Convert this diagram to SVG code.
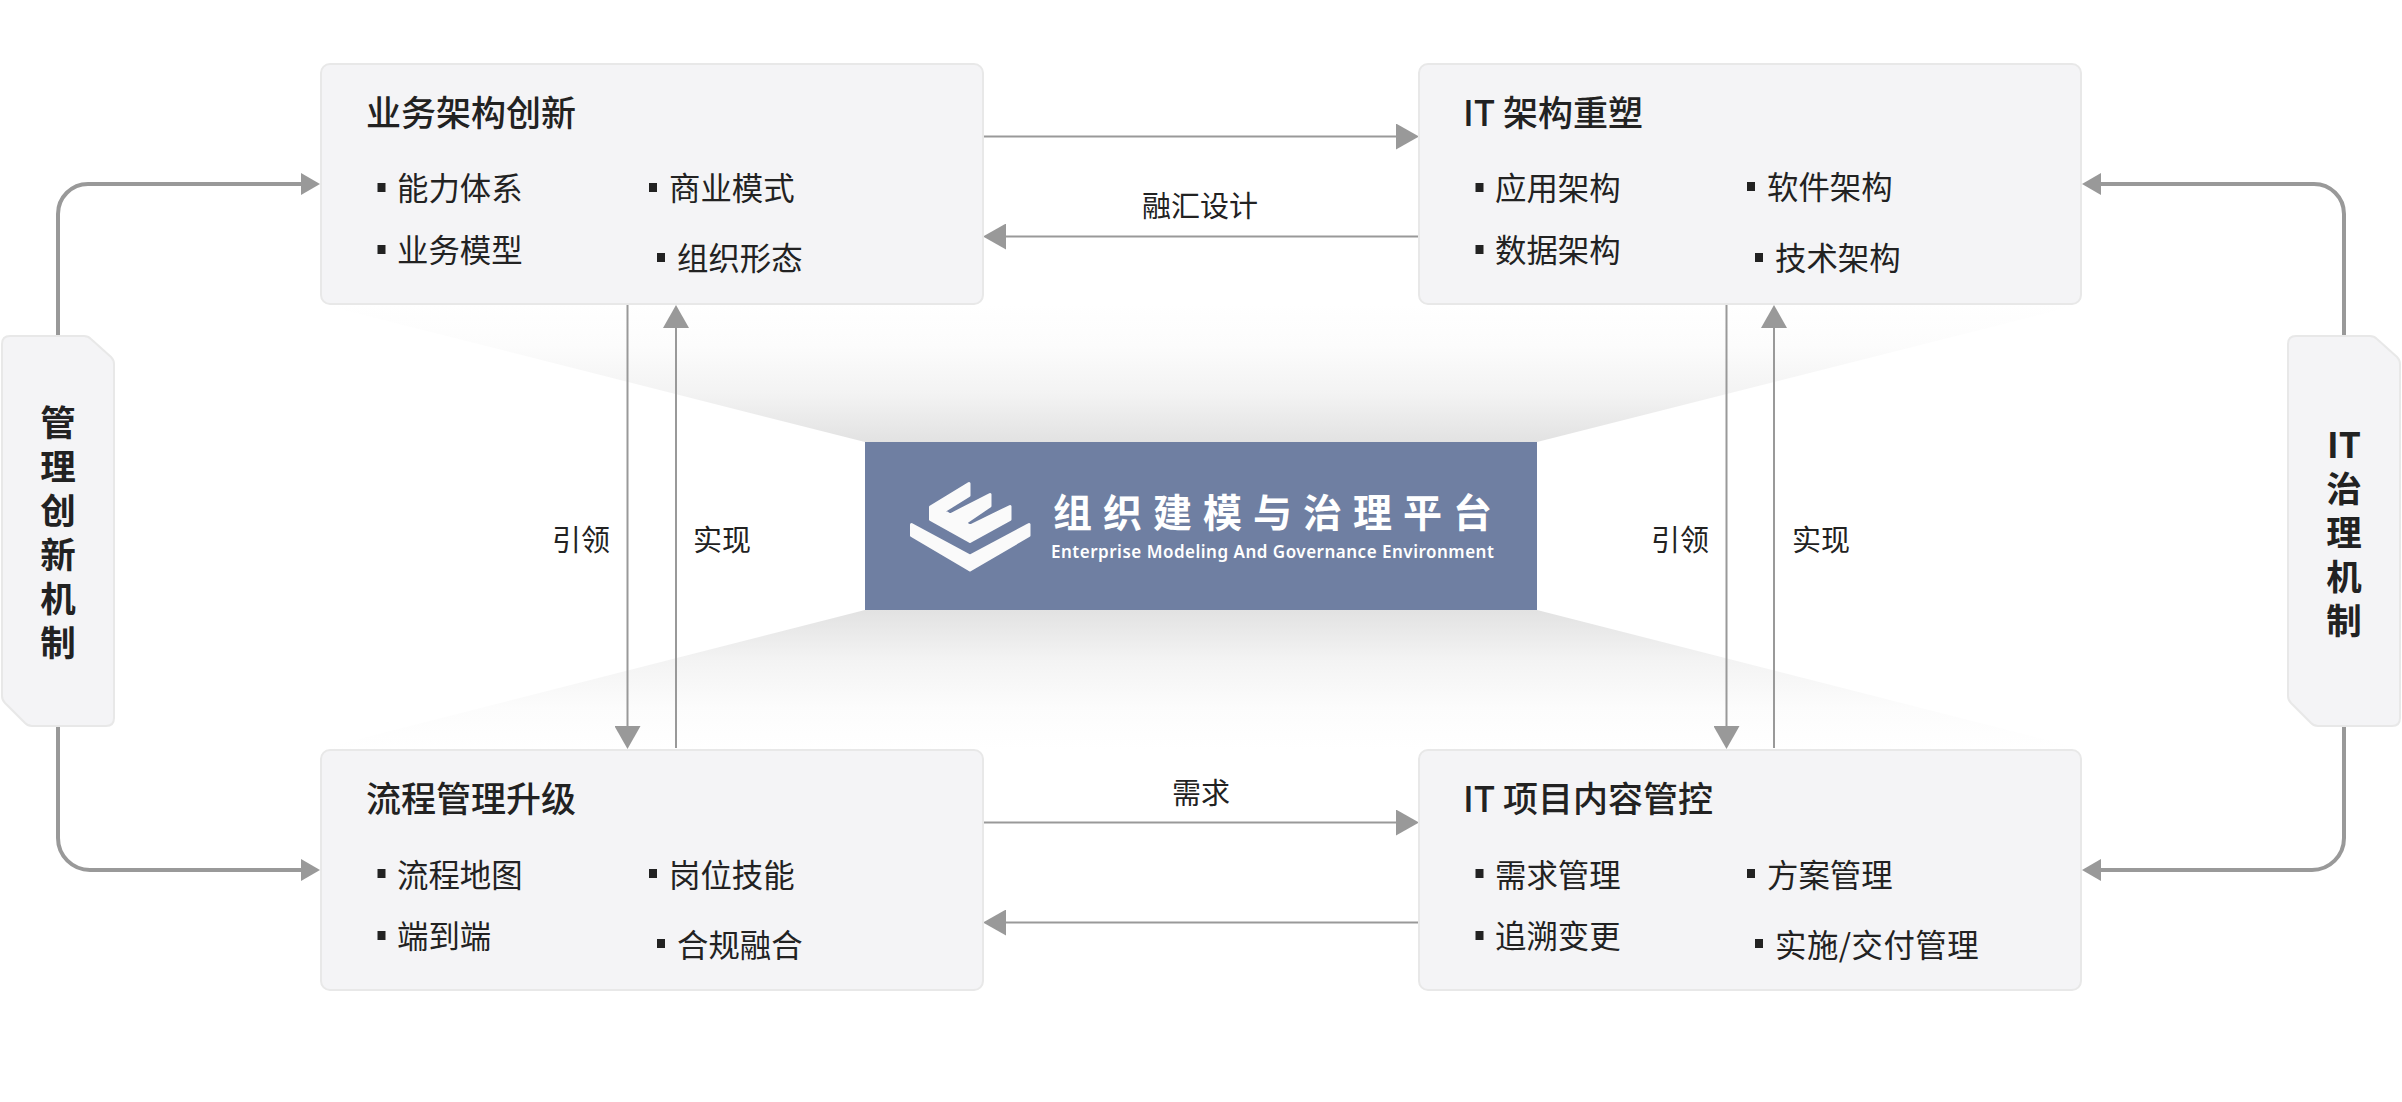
<svg xmlns="http://www.w3.org/2000/svg" width="2402" height="1102" viewBox="0 0 2402 1102">
<style>
text{font-family:"Noto Sans CJK SC","Noto Sans",sans-serif;fill:#222}
.box{fill:#f4f4f6;stroke:#e8e8e8;stroke-width:2}
.t{font-size:35px;font-weight:500}
.i{font-size:31.400px}
.b{fill:#222}
.l{font-size:29px}
.tag{font-size:35.500px;font-weight:700;text-anchor:middle}
.thin{fill:none;stroke:#999;stroke-width:2;marker-end:url(#h1)}
.thick{fill:none;stroke:#999;stroke-width:4;marker-end:url(#h2)}
</style>
<defs>
<marker id="h1" markerUnits="userSpaceOnUse" markerWidth="23" markerHeight="26" refX="0" refY="13" orient="auto"><path d="M0 0L23 13L0 26Z" fill="#999"/></marker>
<marker id="h2" markerUnits="userSpaceOnUse" markerWidth="19" markerHeight="22" refX="0" refY="11" orient="auto"><path d="M0 0L19 11L0 22Z" fill="#999"/></marker>
<linearGradient id="gu" x1="0" y1="0" x2="0" y2="1"><stop offset="0" stop-color="#fff"/><stop offset="0.3" stop-color="#fcfcfc"/><stop offset="0.65" stop-color="#f3f3f3"/><stop offset="1" stop-color="#e2e2e2"/></linearGradient>
<linearGradient id="gd" x1="0" y1="1" x2="0" y2="0"><stop offset="0" stop-color="#fff"/><stop offset="0.3" stop-color="#fcfcfc"/><stop offset="0.65" stop-color="#f3f3f3"/><stop offset="1" stop-color="#e2e2e2"/></linearGradient>
</defs>
<rect width="2402" height="1102" fill="#fff"/>
<g id="shades">
<polygon points="320,304 2082,304 1537,442 865,442" fill="url(#gu)"/>
<polygon points="865,610 1537,610 2082,749 320,749" fill="url(#gd)"/>
</g>
<g id="connectors">
<path class="thin" d="M984 136.500H1396"/>
<path class="thin" d="M1419 236.500H1006"/>
<path class="thin" d="M984 822.500H1396"/>
<path class="thin" d="M1419 922.500H1006"/>
<path class="thin" d="M627.500 304V726"/>
<path class="thin" d="M676 748V328"/>
<path class="thin" d="M1726.500 304V726"/>
<path class="thin" d="M1774 748V328"/>
<path class="thick" d="M58 336V214A30 30 0 0 1 88 184H301"/>
<path class="thick" d="M58 726V838A32 32 0 0 0 90 870H301"/>
<path class="thick" d="M2344 336V214A30 30 0 0 0 2314 184H2101"/>
<path class="thick" d="M2344 726V838A32 32 0 0 1 2312 870H2101"/>
<text class="l" x="1200" y="217" text-anchor="middle">融汇设计</text>
<text class="l" x="1201" y="804" text-anchor="middle">需求</text>
<text class="l" x="581" y="551" text-anchor="middle">引领</text>
<text class="l" x="722" y="551" text-anchor="middle">实现</text>
<text class="l" x="1680" y="551" text-anchor="middle">引领</text>
<text class="l" x="1821" y="551" text-anchor="middle">实现</text>
</g>
<g id="node-business">
<rect class="box" x="321" y="64" width="662" height="240" rx="9"/>
<text class="t" x="366" y="126">业务架构创新</text>
<rect class="b" x="377.500" y="183" width="8" height="9"/><text class="i" x="397" y="200">能力体系</text>
<rect class="b" x="649" y="183" width="8" height="9"/><text class="i" x="669" y="200">商业模式</text>
<rect class="b" x="377.500" y="245" width="8" height="9"/><text class="i" x="397" y="262">业务模型</text>
<rect class="b" x="657" y="253" width="8" height="9"/><text class="i" x="677" y="270">组织形态</text>
</g>
<g id="node-it-arch">
<rect class="box" x="1419" y="64" width="662" height="240" rx="9"/>
<text class="t" x="1463" y="126">IT 架构重塑</text>
<rect class="b" x="1475.500" y="183" width="8" height="9"/><text class="i" x="1495" y="200">应用架构</text>
<rect class="b" x="1747" y="182" width="8" height="9"/><text class="i" x="1767" y="199">软件架构</text>
<rect class="b" x="1475.500" y="245" width="8" height="9"/><text class="i" x="1495" y="262">数据架构</text>
<rect class="b" x="1755" y="253" width="8" height="9"/><text class="i" x="1775" y="270">技术架构</text>
</g>
<g id="node-process">
<rect class="box" x="321" y="750" width="662" height="240" rx="9"/>
<text class="t" x="366" y="812">流程管理升级</text>
<rect class="b" x="377.500" y="869" width="8" height="9"/><text class="i" x="397" y="887">流程地图</text>
<rect class="b" x="649" y="869" width="8" height="9"/><text class="i" x="669" y="887">岗位技能</text>
<rect class="b" x="377.500" y="931" width="8" height="9"/><text class="i" x="397" y="948">端到端</text>
<rect class="b" x="657" y="939" width="8" height="9"/><text class="i" x="677" y="957">合规融合</text>
</g>
<g id="node-it-project">
<rect class="box" x="1419" y="750" width="662" height="240" rx="9"/>
<text class="t" x="1463" y="812">IT 项目内容管控</text>
<rect class="b" x="1475.500" y="869" width="8" height="9"/><text class="i" x="1495" y="887">需求管理</text>
<rect class="b" x="1747" y="869" width="8" height="9"/><text class="i" x="1767" y="887">方案管理</text>
<rect class="b" x="1475.500" y="931" width="8" height="9"/><text class="i" x="1495" y="948">追溯变更</text>
<rect class="b" x="1755" y="939" width="8" height="9"/><text class="i" x="1775" y="957" letter-spacing="0.5">实施/交付管理</text>
</g>
<g id="node-platform">
<rect x="865" y="442" width="672" height="168" fill="#6f7fa2"/>
<g fill="#fafafa" stroke="#fafafa" stroke-width="3" stroke-linejoin="round">
<polygon points="911.500,524.500 970,556 1029,524.500 1029,535.500 970,570 911.500,535.500"/>
<polygon points="969,483.500 969,495.500 944,511 950,515 990,494.500 990,506 965,523 970,526 1010,506.500 1010,519.500 970,541.500 930.500,519.500 930.500,507"/>
</g>
<text x="1053" y="527" font-size="39" font-weight="700" letter-spacing="11" style="fill:#fff">组织建模与治理平台</text>
<text x="1051" y="558" font-size="17" font-weight="600" letter-spacing="0.5" style="fill:#fff;font-family:'Noto Sans',sans-serif">Enterprise Modeling And Governance Environment</text>
</g>
<g id="node-mgmt">
<path class="box" d="M10 336H84Q88 336 91 339L111 357Q114 360 114 364V718Q114 726 106 726H32Q28 726 25 723L5 703Q2 700 2 696V344Q2 336 10 336Z"/>
<text class="tag" x="58" y="436"><tspan x="58">管</tspan><tspan x="58" dy="44">理</tspan><tspan x="58" dy="44">创</tspan><tspan x="58" dy="44">新</tspan><tspan x="58" dy="44">机</tspan><tspan x="58" dy="44">制</tspan></text>
</g>
<g id="node-it-gov">
<path class="box" d="M2296 336H2370Q2374 336 2377 339L2397 357Q2400 360 2400 364V718Q2400 726 2392 726H2318Q2314 726 2311 723L2291 703Q2288 700 2288 696V344Q2288 336 2296 336Z"/>
<text class="tag" x="2344" y="458"><tspan x="2344">IT</tspan><tspan x="2344" dy="44">治</tspan><tspan x="2344" dy="44">理</tspan><tspan x="2344" dy="44">机</tspan><tspan x="2344" dy="44">制</tspan></text>
</g>
</svg>
